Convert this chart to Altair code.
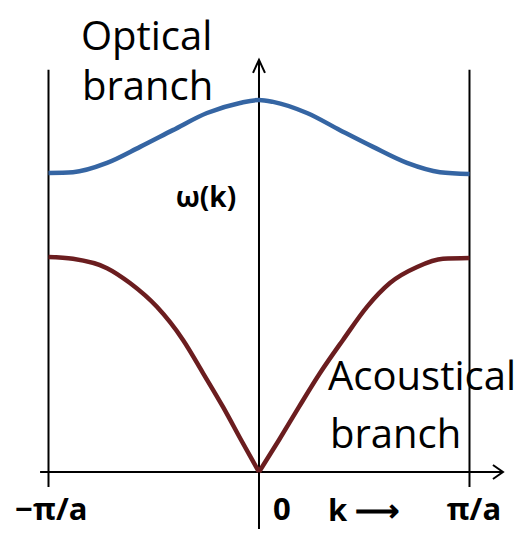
import altair as alt
import pandas as pd

# ---- data (k in units of pi/a, omega normalised to optical max) ----
k_opt = [-1.0, -0.884, -0.722, -0.565, -0.409, -0.247, -0.090, 0.0, 0.067, 0.228, 0.385, 0.542, 0.703, 0.860, 1.0]
w_opt = [0.804, 0.806, 0.831, 0.874, 0.919, 0.965, 0.992, 1.0, 0.995, 0.965, 0.919, 0.874, 0.831, 0.806, 0.801]

k_ac_left = [-1.0, -0.884, -0.722, -0.613, -0.485, -0.361, -0.266, -0.171, -0.081, 0.0]
w_ac_left = [0.578, 0.573, 0.548, 0.508, 0.444, 0.355, 0.266, 0.175, 0.082, 0.0]
k_ac_right = [0.0, 0.095, 0.190, 0.290, 0.399, 0.513, 0.622, 0.751, 0.874, 1.0]
w_ac_right = [0.0, 0.086, 0.175, 0.266, 0.355, 0.444, 0.508, 0.551, 0.573, 0.575]

# frame lines: zone boundaries, omega axis, k axis
rule_k = [-1.0, 1.0, 0.0, -1.040]
rule_k2 = [-1.0, 1.0, 0.0, 1.159]
rule_w = [-0.040, -0.040, -0.153, 0.0]
rule_w2 = [1.081, 1.081, 1.108, 0.0]

# text labels
big_text = ["Optical", "branch", "Acoustical", "branch"]
big_k = [-0.846, -0.841, 0.328, 0.337]
big_w = [1.134, 1.0, 0.220, 0.0645]

tick_text = ["\u2212\u03c0/a", "0", "\u03c0/a"]
tick_k = [-0.986, 0.109, 1.021]
tick_w = [-0.129, -0.129, -0.129]

BLUE = "#3565a3"
MAROON = "#6b1d1f"

xs = alt.Scale(domain=[-1.1924, 1.2257], nice=False, zero=False)
ys = alt.Scale(domain=[-0.1532, 1.2473], nice=False, zero=False)


def X(f="k"):
    return alt.X(f"{f}:Q", scale=xs, axis=None)


def Y(f="w"):
    return alt.Y(f"{f}:Q", scale=ys, axis=None)


curves = pd.DataFrame(
    {
        "k": k_opt + k_ac_left + k_ac_right,
        "w": w_opt + w_ac_left + w_ac_right,
        "branch": ["optical"] * len(k_opt) + ["acoustical"] * (len(k_ac_left) + len(k_ac_right)),
        "seg": ["o"] * len(k_opt) + ["l"] * len(k_ac_left) + ["r"] * len(k_ac_right),
    }
)
rules = pd.DataFrame({"k": rule_k, "k2": rule_k2, "w": rule_w, "w2": rule_w2})
bigs = pd.DataFrame({"t": big_text, "k": big_k, "w": big_w})
ticks = pd.DataFrame({"t": tick_text, "k": tick_k, "w": tick_w})

rule_layer = alt.Chart(rules).mark_rule(color="black", strokeWidth=2).encode(
    x=X(), x2="k2:Q", y=Y(), y2="w2:Q"
)

up_arrow = alt.Chart(pd.DataFrame({"k": [0.0], "w": [1.108]})).mark_point(
    shape="M-0.46,1L0,0L0.46,1", size=676, filled=False, stroke="black", strokeWidth=2, opacity=1
).encode(x=X(), y=Y())

right_arrow = alt.Chart(pd.DataFrame({"k": [1.159], "w": [0.0]})).mark_point(
    shape="M-1,-0.7L0,0L-1,0.7", size=400, filled=False, stroke="black", strokeWidth=2, opacity=1
).encode(x=X(), y=Y())

curve_layer = alt.Chart(curves).mark_line(strokeWidth=4.5, interpolate="monotone").encode(
    x=X(),
    y=Y(),
    color=alt.Color("branch:N", scale=alt.Scale(domain=["optical", "acoustical"], range=[BLUE, MAROON]), legend=None),
    detail="seg:N",
)

big_layer = alt.Chart(bigs).mark_text(
    font="Open Sans", fontSize=40, align="left", baseline="alphabetic", color="black"
).encode(x=X(), y=Y(), text="t:N")

tick_layer = alt.Chart(ticks).mark_text(
    font="Open Sans", fontSize=31, fontWeight="bold", align="center", baseline="alphabetic", color="black"
).encode(x=X(), y=Y(), text="t:N")

k_layer = alt.Chart(pd.DataFrame({"t": ["k \u27f6"], "k": [0.328], "w": [-0.132]})).mark_text(
    font="Open Sans", fontSize=31, fontWeight="bold", align="left", baseline="alphabetic", color="black"
).encode(x=X(), y=Y(), text="t:N")

omega_layer = alt.Chart(pd.DataFrame({"t": ["\u03c9(k)"], "k": [-0.252], "w": [0.712]})).mark_text(
    font="Open Sans", fontSize=28, fontWeight="bold", align="center", baseline="alphabetic", color="black"
).encode(x=X(), y=Y(), text="t:N")

chart = (
    alt.layer(rule_layer, up_arrow, right_arrow, curve_layer, big_layer, tick_layer, k_layer, omega_layer)
    .properties(width=509, height=521, padding=0, autosize=alt.AutoSizeParams(type="none"))
    .configure_view(stroke=None)
)

chart.save("out.html", embed_options={"renderer": "svg", "actions": False})
